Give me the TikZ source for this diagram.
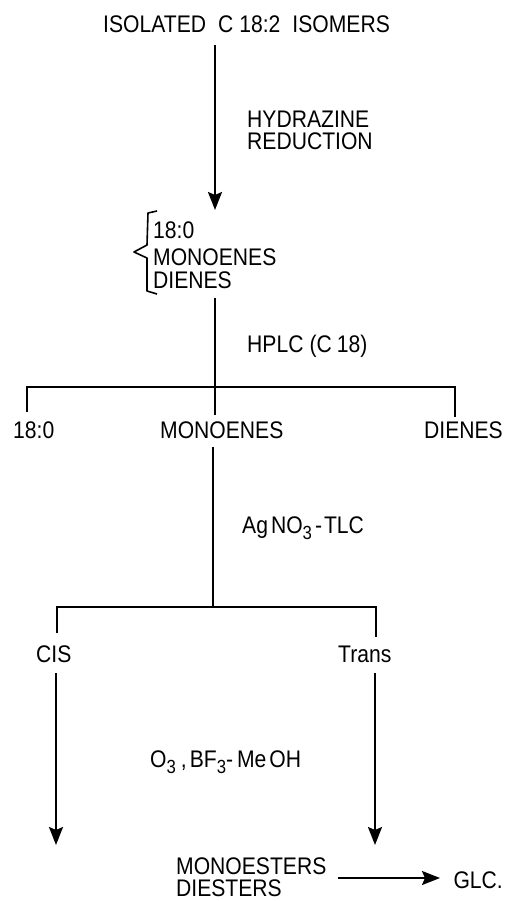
\documentclass[tikz,border=0pt]{standalone}
\usepackage{fontspec}
\setmainfont[FakeStretch=0.88]{Liberation Sans}
\usetikzlibrary{arrows.meta}
\newcommand\sbt[1]{\raisebox{-6pt}{\fontsize{19}{19}\selectfont #1}}
\begin{document}
\begin{tikzpicture}[x=1pt,y=-1pt,
  lbl/.style={font=\fontsize{24}{26}\selectfont, inner sep=0pt, anchor=base west},
  ln/.style={line width=2pt},
  arr/.style={line width=2pt,-{Stealth[length=18pt,width=14pt,inset=3pt]}}]
\useasboundingbox (0,0) rectangle (508,901);
% texts
\node[lbl] (title) at (103,33) {ISOLATED\hspace{12pt}C\hspace{6pt}18:2\hspace{12pt}ISOMERS};
\node[lbl] (hyd) at (247,128) {HYDRAZINE};
\node[lbl] (red) at (247,150) {REDUCTION};
\node[lbl] (s1) at (153,238) {18:0};
\node[lbl] (s2) at (153,265) {MONOENES};
\node[lbl] (s3) at (153,288) {DIENES};
\node[lbl] (hplc) at (247,352) {HPLC\hspace{6pt}(C\hspace{5pt}18)};
\node[lbl] (sat) at (13,438) {18:0};
\node[lbl] (mono) at (160,438) {MONOENES};
\node[lbl, anchor=base east] (dien) at (503,438) {DIENES};
\node[lbl] (ag) at (242,533) {Ag\hspace{3pt}NO\sbt{3}\hspace{3pt}-\hspace{2pt}TLC};
\node[lbl] (cis) at (36,662) {CIS};
\node[lbl] (trans) at (338,662) {Trans};
\node[lbl] (oz) at (150,767) {O\sbt{3}\hspace{5pt},\hspace{3pt}BF\sbt{3}-\hspace{4pt}Me\hspace{3pt}OH};
\node[lbl] (mest) at (176,874) {MONOESTERS};
\node[lbl] (dest) at (176,896) {DIESTERS};
\node[lbl, anchor=base east] (glc) at (503,888) {GLC.};
% junction coordinates
\coordinate (a1s) at (215,45);
\coordinate (a1e) at (215,210);
\coordinate (h0) at (215,298);
\coordinate (h1) at (215,415);
\coordinate (hl) at (27,387);
\coordinate (hr) at (455,387);
\coordinate (hld) at (27,412);
\coordinate (hrd) at (455,417);
\coordinate (m0) at (213,447);
\coordinate (m1) at (213,607);
\coordinate (ml) at (57,607);
\coordinate (mr) at (376,607);
\coordinate (mld) at (57,633);
\coordinate (mrd) at (376,637);
\coordinate (c0) at (56,673);
\coordinate (c1) at (56,845);
\coordinate (t0) at (375,673);
\coordinate (t1) at (375,845);
\coordinate (g0) at (338,878);
\coordinate (g1) at (440,878);
% brace
\draw[line width=1.6pt, line join=round] (157,211) -- (148,213) -- (147,245) -- (134,252) -- (147,258) -- (147,291) -- (157,294);
% connectors
\draw[arr] (a1s) -- (a1e);
\draw[ln] (h0) -- (h1);
\draw[ln] (hld) -- (hl) -- (hr) -- (hrd);
\draw[ln] (m0) -- (m1);
\draw[ln] (mld) -- (ml) -- (mr) -- (mrd);
\draw[arr] (c0) -- (c1);
\draw[arr] (t0) -- (t1);
\draw[arr] (g0) -- (g1);
\end{tikzpicture}
\end{document}
